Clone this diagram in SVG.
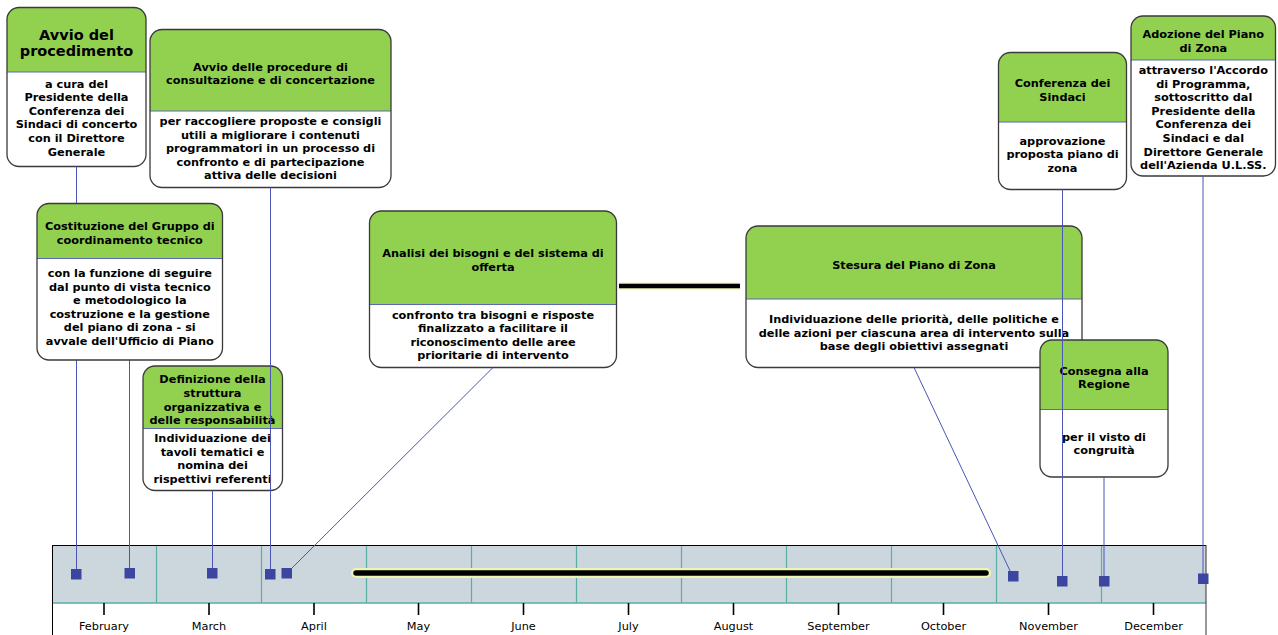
<svg xmlns="http://www.w3.org/2000/svg" width="1278" height="635" viewBox="0 0 1278 635">
<style>
.box{fill:#ffffff}
.hdr{fill:#92d050}
.div{stroke:#5b66b5;stroke-width:1}
.out{fill:none;stroke:#3a3a3a;stroke-width:1.3}
text{font-family:"DejaVu Sans",Verdana,sans-serif;font-weight:bold;font-size:11.3px;fill:#000;text-anchor:middle}
.big{font-size:14.5px}
.mon{font-weight:normal;font-size:11.3px}
.conn{stroke:#4a55b5;stroke-width:1;fill:none}
.mk{fill:#3c46a0}
.mdiv{stroke:#5aaea3;stroke-width:1.2}
.tick{stroke:#000;stroke-width:1.6}
</style>
<rect width="1278" height="635" fill="#ffffff"/>

<g id="timeline">
<rect x="52.5" y="545.5" width="1153.5" height="57.5" fill="#cbd6dd"/>
<line x1="52" y1="545.5" x2="1206" y2="545.5" stroke="#000" stroke-width="1"/>
<line x1="52" y1="603" x2="1206" y2="603" stroke="#5aaea3" stroke-width="1.5"/>
<line x1="52.5" y1="545" x2="52.5" y2="635" stroke="#000" stroke-width="1"/>
<line x1="1206" y1="545" x2="1206" y2="635" stroke="#333" stroke-width="1"/>
<g class="mdiv">
<line x1="156.5" y1="546" x2="156.5" y2="603"/>
<line x1="261.5" y1="546" x2="261.5" y2="603"/>
<line x1="366.5" y1="546" x2="366.5" y2="603"/>
<line x1="471.5" y1="546" x2="471.5" y2="603"/>
<line x1="576.5" y1="546" x2="576.5" y2="603"/>
<line x1="681.5" y1="546" x2="681.5" y2="603"/>
<line x1="786.5" y1="546" x2="786.5" y2="603"/>
<line x1="891.5" y1="546" x2="891.5" y2="603"/>
<line x1="996.5" y1="546" x2="996.5" y2="603"/>
<line x1="1101.5" y1="546" x2="1101.5" y2="603"/>
</g>
<g class="tick">
<line x1="104" y1="603" x2="104" y2="615"/>
<line x1="209" y1="603" x2="209" y2="615"/>
<line x1="314" y1="603" x2="314" y2="615"/>
<line x1="418.5" y1="603" x2="418.5" y2="615"/>
<line x1="523.5" y1="603" x2="523.5" y2="615"/>
<line x1="628.5" y1="603" x2="628.5" y2="615"/>
<line x1="733.5" y1="603" x2="733.5" y2="615"/>
<line x1="838.5" y1="603" x2="838.5" y2="615"/>
<line x1="943.5" y1="603" x2="943.5" y2="615"/>
<line x1="1048.5" y1="603" x2="1048.5" y2="615"/>
<line x1="1153.5" y1="603" x2="1153.5" y2="615"/>
</g>
<text class="mon" x="104" y="630">February</text>
<text class="mon" x="209" y="630">March</text>
<text class="mon" x="314" y="630">April</text>
<text class="mon" x="418.5" y="630">May</text>
<text class="mon" x="523.5" y="630">June</text>
<text class="mon" x="628.5" y="630">July</text>
<text class="mon" x="733.5" y="630">August</text>
<text class="mon" x="838.5" y="630">September</text>
<text class="mon" x="943.5" y="630">October</text>
<text class="mon" x="1048.5" y="630">November</text>
<text class="mon" x="1153.5" y="630">December</text>
</g>

<g id="n1">
<rect class="box" x="7" y="7.5" width="139" height="159" rx="12"/>
<path class="hdr" d="M7,72 V19.5 A12,12 0 0 1 19,7.5 H134 A12,12 0 0 1 146,19.5 V72 Z"/>
<line class="div" x1="7" y1="72" x2="146" y2="72"/>
<rect class="out" x="7" y="7.5" width="139" height="159" rx="12"/>
<text class="big" x="76.5" y="39.5">Avvio del</text>
<text class="big" x="76.5" y="56">procedimento</text>
<text x="76.5" y="87.5">a cura del</text>
<text x="76.5" y="101">Presidente della</text>
<text x="76.5" y="114.7">Conferenza dei</text>
<text x="76.5" y="128.4">Sindaci di concerto</text>
<text x="76.5" y="142">con il Direttore</text>
<text x="76.5" y="155.7">Generale</text>
</g>

<g id="n2">
<rect class="box" x="150" y="29.5" width="241" height="158" rx="12"/>
<path class="hdr" d="M150,111 V41.5 A12,12 0 0 1 162,29.5 H379 A12,12 0 0 1 391,41.5 V111 Z"/>
<line class="div" x1="150" y1="111" x2="391" y2="111"/>
<rect class="out" x="150" y="29.5" width="241" height="158" rx="12"/>
<text x="270.5" y="70.5">Avvio delle procedure di</text>
<text x="270.5" y="84">consultazione e di concertazione</text>
<text x="270.5" y="125">per raccogliere proposte e consigli</text>
<text x="270.5" y="138.5">utili a migliorare i contenuti</text>
<text x="270.5" y="152">programmatori in un processo di</text>
<text x="270.5" y="165.5">confronto e di partecipazione</text>
<text x="270.5" y="179">attiva delle decisioni</text>
</g>

<g id="n4">
<rect class="box" x="143" y="366" width="139.5" height="124.5" rx="12"/>
<path class="hdr" d="M143,428.5 V378 A12,12 0 0 1 155,366 H270.5 A12,12 0 0 1 282.5,378 V428.5 Z"/>
<line class="div" x1="143" y1="428.5" x2="282.5" y2="428.5"/>
<rect class="out" x="143" y="366" width="139.5" height="124.5" rx="12"/>
<text x="212.5" y="383.3">Definizione della</text>
<text x="212.5" y="396.9">struttura</text>
<text x="212.5" y="410.5">organizzativa e</text>
<text x="212.5" y="424">delle responsabilità</text>
<text x="212.5" y="442">Individuazione dei</text>
<text x="212.5" y="455.6">tavoli tematici e</text>
<text x="212.5" y="469.2">nomina dei</text>
<text x="212.5" y="482.8">rispettivi referenti</text>
</g>

<g id="n5">
<rect class="box" x="369.5" y="211" width="247" height="156.5" rx="12"/>
<path class="hdr" d="M369.5,304.5 V223 A12,12 0 0 1 381.5,211 H604.5 A12,12 0 0 1 616.5,223 V304.5 Z"/>
<line class="div" x1="369.5" y1="304.5" x2="616.5" y2="304.5"/>
<rect class="out" x="369.5" y="211" width="247" height="156.5" rx="12"/>
<text x="493" y="257">Analisi dei bisogni e del sistema di</text>
<text x="493" y="270.7">offerta</text>
<text x="493" y="318.5">confronto tra bisogni e risposte</text>
<text x="493" y="332">finalizzato a facilitare il</text>
<text x="493" y="345.5">riconoscimento delle aree</text>
<text x="493" y="359">prioritarie di intervento</text>
</g>

<g id="n6">
<rect class="box" x="746" y="226" width="336" height="141.5" rx="12"/>
<path class="hdr" d="M746,299 V238 A12,12 0 0 1 758,226 H1070 A12,12 0 0 1 1082,238 V299 Z"/>
<line class="div" x1="746" y1="299" x2="1082" y2="299"/>
<rect class="out" x="746" y="226" width="336" height="141.5" rx="12"/>
<text x="914" y="268.5">Stesura del Piano di Zona</text>
<text x="914" y="323">Individuazione delle priorità, delle politiche e</text>
<text x="914" y="336.5">delle azioni per ciascuna area di intervento sulla</text>
<text x="914" y="350">base degli obiettivi assegnati</text>
</g>

<g id="n9">
<rect class="box" x="1040" y="340" width="128" height="137" rx="12"/>
<path class="hdr" d="M1040,409.5 V352 A12,12 0 0 1 1052,340 H1156 A12,12 0 0 1 1168,352 V409.5 Z"/>
<line class="div" x1="1040" y1="409.5" x2="1168" y2="409.5"/>
<rect class="out" x="1040" y="340" width="128" height="137" rx="12"/>
<text x="1104" y="374.5">Consegna alla</text>
<text x="1104" y="388">Regione</text>
<text x="1104" y="440.5">per il visto di</text>
<text x="1104" y="454">congruità</text>
</g>

<g id="n7">
<rect class="box" x="998.5" y="52.5" width="128" height="137" rx="12"/>
<path class="hdr" d="M998.5,122 V64.5 A12,12 0 0 1 1010.5,52.5 H1114.5 A12,12 0 0 1 1126.5,64.5 V122 Z"/>
<line class="div" x1="998.5" y1="122" x2="1126.5" y2="122"/>
<rect class="out" x="998.5" y="52.5" width="128" height="137" rx="12"/>
<text x="1062.5" y="87">Conferenza dei</text>
<text x="1062.5" y="100.5">Sindaci</text>
<text x="1062.5" y="144.5">approvazione</text>
<text x="1062.5" y="158">proposta piano di</text>
<text x="1062.5" y="171.7">zona</text>
</g>

<g id="n8">
<rect class="box" x="1131" y="16" width="144.5" height="160" rx="12"/>
<path class="hdr" d="M1131,60 V28 A12,12 0 0 1 1143,16 H1263.5 A12,12 0 0 1 1275.5,28 V60 Z"/>
<line class="div" x1="1131" y1="60" x2="1275.5" y2="60"/>
<rect class="out" x="1131" y="16" width="144.5" height="160" rx="12"/>
<text x="1203.3" y="38">Adozione del Piano</text>
<text x="1203.3" y="51.5">di Zona</text>
<text x="1203.3" y="74">attraverso l'Accordo</text>
<text x="1203.3" y="87.6">di Programma,</text>
<text x="1203.3" y="101.2">sottoscritto dal</text>
<text x="1203.3" y="114.8">Presidente della</text>
<text x="1203.3" y="128.4">Conferenza dei</text>
<text x="1203.3" y="142">Sindaci e dal</text>
<text x="1203.3" y="155.6">Direttore Generale</text>
<text x="1203.3" y="169.2">dell'Azienda U.L.SS.</text>
</g>

<g id="connectors">
<line class="conn" x1="76.5" y1="166.5" x2="76.5" y2="574"/>
<line class="conn" x1="129.5" y1="360" x2="129.5" y2="573"/>
<line class="conn" x1="212.5" y1="490.5" x2="212.5" y2="573"/>
<line class="conn" x1="270.5" y1="187.5" x2="270.5" y2="574"/>
<line class="conn" x1="493" y1="367.5" x2="288" y2="572"/>
<line class="conn" x1="914" y1="367.5" x2="1012" y2="575"/>
<line class="conn" x1="1062.5" y1="189.5" x2="1062.5" y2="581"/>
<line class="conn" x1="1104" y1="477" x2="1104" y2="581"/>
<line class="conn" x1="1203" y1="176" x2="1203" y2="578"/>
<line x1="619" y1="286" x2="740" y2="286" stroke="#eef4b4" stroke-width="7" stroke-linecap="butt"/>
<line x1="619" y1="286" x2="740" y2="286" stroke="#000" stroke-width="4.5"/>
<line x1="356" y1="573" x2="986" y2="573" stroke="#eef4b4" stroke-width="10" stroke-linecap="round"/>
<line x1="356" y1="573" x2="986" y2="573" stroke="#000" stroke-width="5.5" stroke-linecap="round"/>
<rect class="mk" x="71" y="569" width="10.5" height="10.5"/>
<rect class="mk" x="124.5" y="568" width="10.5" height="10.5"/>
<rect class="mk" x="207" y="568" width="10.5" height="10.5"/>
<rect class="mk" x="265" y="569" width="10.5" height="10.5"/>
<rect class="mk" x="281.5" y="568" width="10.5" height="10.5"/>
<rect class="mk" x="1008" y="571" width="10.5" height="10.5"/>
<rect class="mk" x="1057" y="576" width="10.5" height="10.5"/>
<rect class="mk" x="1099" y="576" width="10.5" height="10.5"/>
<rect class="mk" x="1198" y="573.5" width="10.5" height="10.5"/>
</g>

<g id="n3">
<rect class="box" x="37" y="203.5" width="185.5" height="156.5" rx="12"/>
<path class="hdr" d="M37,258.5 V215.5 A12,12 0 0 1 49,203.5 H210.5 A12,12 0 0 1 222.5,215.5 V258.5 Z"/>
<line class="div" x1="37" y1="258.5" x2="222.5" y2="258.5"/>
<rect class="out" x="37" y="203.5" width="185.5" height="156.5" rx="12"/>
<text x="129.8" y="230.3">Costituzione del Gruppo di</text>
<text x="129.8" y="243.8">coordinamento tecnico</text>
<text x="129.8" y="277">con la funzione di seguire</text>
<text x="129.8" y="290.6">dal punto di vista tecnico</text>
<text x="129.8" y="304.2">e metodologico la</text>
<text x="129.8" y="317.8">costruzione e la gestione</text>
<text x="129.8" y="331.4">del piano di zona - si</text>
<text x="129.8" y="345">avvale dell'Ufficio di Piano</text>
</g>
</svg>
